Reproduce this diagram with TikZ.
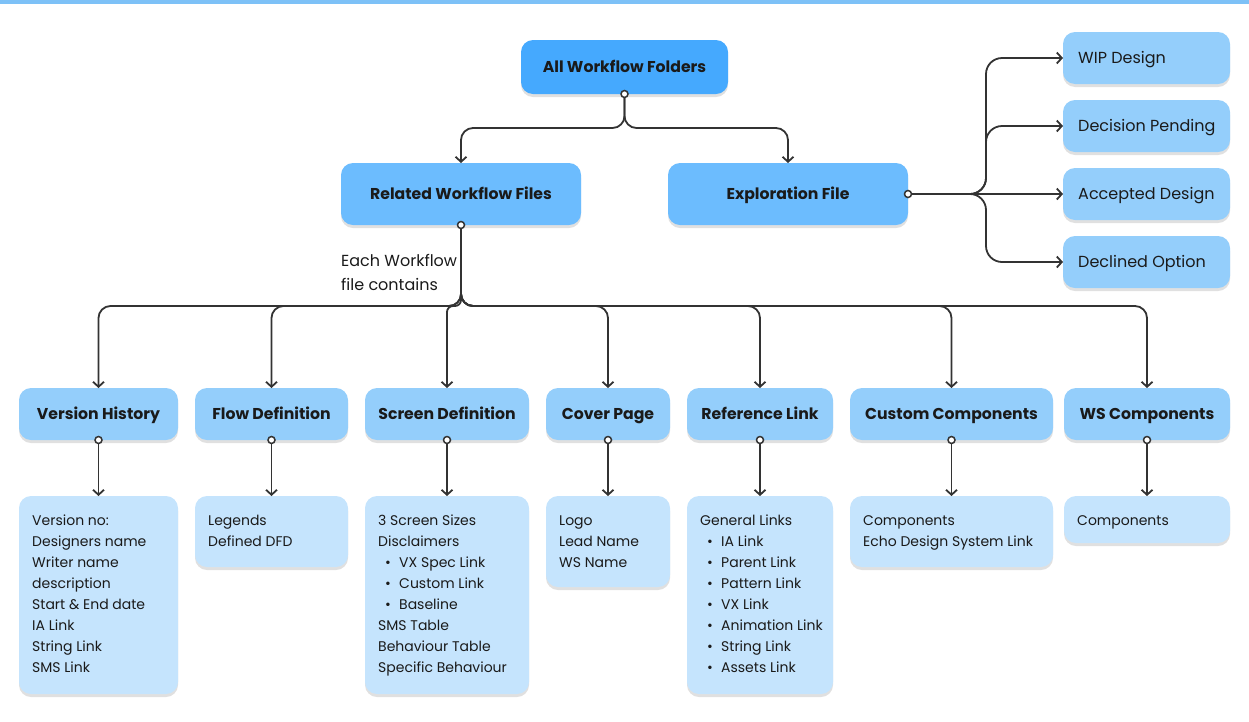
\documentclass[tikz,border=0pt]{standalone}
\usepackage{fontspec}
\setmainfont{Poppins}
\usetikzlibrary{arrows.meta,shadows,calc}
\definecolor{stripe}{HTML}{7DC1F7}
\definecolor{cA}{HTML}{45A9FE}
\definecolor{cB}{HTML}{6CBCFE}
\definecolor{cC}{HTML}{94CEFB}
\definecolor{cD}{HTML}{C5E4FD}
\definecolor{lc}{HTML}{333333}
\definecolor{tx}{HTML}{1A1A1A}
\tikzset{
  box/.style={draw=none, rounded corners=12pt, inner sep=0pt, outer sep=0pt, anchor=north west,
    drop shadow={shadow xshift=0pt, shadow yshift=-3pt, opacity=0.22, fill=black!55}},
  conn/.style={draw=lc, line width=1.8pt, rounded corners=12pt, -{Straight Barb[length=5pt,width=11pt,line width=1.8pt]}},
  dot/.style={circle, draw=lc, fill=white, line width=1.5pt, inner sep=0pt, minimum size=7pt},
  title/.style={font=\bfseries\fontsize{15.7}{18}\selectfont, text=tx, inner sep=0pt, anchor=base},
  label/.style={font=\fontsize{16}{24}\selectfont, text=tx, inner sep=0pt, anchor=base west},
  body/.style={font=\fontsize{14}{21}\selectfont, text=tx, inner sep=0pt, anchor=base west},
}
\newcommand\mkbox[6]{\node[box, fill=#6, minimum width={(#4-#2)*1pt}, minimum height={(#5-#3)*1pt}] (#1) at (#2,#3) {};}
\newcommand\bl[1]{\makebox[21pt][l]{\hspace{7pt}•}#1}
\begin{document}
\begin{tikzpicture}[x=1pt,y=-1pt]
\useasboundingbox (0,0) rectangle (1249,721);
\fill[stripe] (0,0) rectangle (1249,4);

% top level
\mkbox{awf}{521}{40}{728}{94}{cA}
\mkbox{rwf}{341}{163}{581}{225}{cB}
\mkbox{exp}{668}{163}{908}{225}{cB}
\mkbox{wip}{1063}{32}{1230}{84}{cC}
\mkbox{dp}{1063}{100}{1230}{152}{cC}
\mkbox{ad}{1063}{168}{1230}{220}{cC}
\mkbox{dco}{1063}{236}{1230}{288}{cC}

% level 2
\mkbox{vh}{19}{388}{178}{440}{cC}
\mkbox{fd}{195}{388}{348}{440}{cC}
\mkbox{sd}{365}{388}{529}{440}{cC}
\mkbox{cp}{546}{388}{670}{440}{cC}
\mkbox{rl}{687}{388}{833}{440}{cC}
\mkbox{cc}{850}{388}{1053}{440}{cC}
\mkbox{ws}{1064}{388}{1230}{440}{cC}

% level 3
\mkbox{vhb}{19}{496}{178}{694}{cD}
\mkbox{fdb}{195}{496}{348}{567}{cD}
\mkbox{sdb}{365}{496}{529}{694}{cD}
\mkbox{cpb}{546}{496}{670}{587}{cD}
\mkbox{rlb}{687}{496}{833}{694}{cD}
\mkbox{ccb}{850}{496}{1053}{567}{cD}
\mkbox{wsb}{1064}{496}{1230}{543}{cD}

% titles
\node[title] (awft) at ([yshift=-5.7pt]awf.center) {All Workflow Folders};
\node[title] (rwft) at ([yshift=-5.7pt]rwf.center) {Related Workflow Files};
\node[title] (expt) at ([yshift=-5.7pt]exp.center) {Exploration File};
\node[title] (vht) at ([yshift=-5.7pt]vh.center) {Version History};
\node[title] (fdt) at ([yshift=-5.7pt]fd.center) {Flow Definition};
\node[title] (sdt) at ([yshift=-5.7pt]sd.center) {Screen Definition};
\node[title] (cpt) at ([yshift=-5.7pt]cp.center) {Cover Page};
\node[title] (rlt) at ([yshift=-5.7pt]rl.center) {Reference Link};
\node[title] (cct) at ([yshift=-5.7pt]cc.center) {Custom Components};
\node[title] (wst) at ([yshift=-5.7pt]ws.center) {WS Components};

\node[label] (wipt) at (1078,63.8) {WIP Design};
\node[label] (dpt) at (1078,131.8) {Decision Pending};
\node[label] (adt) at (1078,199.8) {Accepted Design};
\node[label] (dcot) at (1078,267.8) {Declined Option};

\node[label] (each1) at (341,266.8) {Each Workflow};
\node[label] (each2) at (341,290.8) {file contains};

% body texts
\node[body] (vhx) at (32,525) {\begin{tabular}[t]{@{}l@{}}Version no:\\Designers name\\Writer name\\description\\Start \& End date\\IA Link\\String Link\\SMS Link\end{tabular}};
\node[body] (fdx) at (208,525) {\begin{tabular}[t]{@{}l@{}}Legends\\Defined DFD\end{tabular}};
\node[body] (sdx) at (378,525) {\begin{tabular}[t]{@{}l@{}}3 Screen Sizes\\Disclaimers\\\bl{VX Spec Link}\\\bl{Custom Link}\\\bl{Baseline}\\SMS Table\\Behaviour Table\\Specific Behaviour\end{tabular}};
\node[body] (cpx) at (559,525) {\begin{tabular}[t]{@{}l@{}}Logo\\Lead Name\\WS Name\end{tabular}};
\node[body] (rlx) at (700,525) {\begin{tabular}[t]{@{}l@{}}General Links\\\bl{IA Link}\\\bl{Parent Link}\\\bl{Pattern Link}\\\bl{VX Link}\\\bl{Animation Link}\\\bl{String Link}\\\bl{Assets Link}\end{tabular}};
\node[body] (ccx) at (863,525) {\begin{tabular}[t]{@{}l@{}}Components\\Echo Design System Link\end{tabular}};
\node[body] (wsx) at (1077,525) {\begin{tabular}[t]{@{}l@{}}Components\end{tabular}};

% connectors
\coordinate (j0) at (624.5,128);
\draw[conn] (awf.south) -- (j0) -| (rwf.north);
\draw[conn] (awf.south) -- (j0) -| (exp.north);

\coordinate (j1) at (986,194);
\draw[conn, rounded corners=16pt] (exp.east) -- (j1) |- (wip.west);
\draw[conn, rounded corners=16pt] (exp.east) -- (j1) |- (dp.west);
\draw[conn] (exp.east) -- (ad.west);
\draw[conn, rounded corners=16pt] (exp.east) -- (j1) |- (dco.west);

\coordinate (j2) at (461,306);
\draw[conn] (rwf.south) -- (j2) -| (vh.north);
\draw[conn] (rwf.south) -- (j2) -| (fd.north);
\draw[conn, rounded corners=6pt] (rwf.south) -- (j2) -| (sd.north);
\draw[conn] (rwf.south) -- (j2) -| (cp.north);
\draw[conn] (rwf.south) -- (j2) -| (rl.north);
\draw[conn] (rwf.south) -- (j2) -| (cc.north);
\draw[conn] (rwf.south) -- (j2) -| (ws.north);

\foreach \a in {vh,fd,sd,cp,rl,cc,ws}{
  \draw[conn] (\a.south) -- (\a b.north);
}

% dots
\node[dot] (d0) at (awf.south) {};
\node[dot] (d1) at (rwf.south) {};
\node[dot] (d2) at (exp.east) {};
\foreach \a in {vh,fd,sd,cp,rl,cc,ws}{
  \node[dot] (d\a) at (\a.south) {};
}
\end{tikzpicture}
\end{document}
